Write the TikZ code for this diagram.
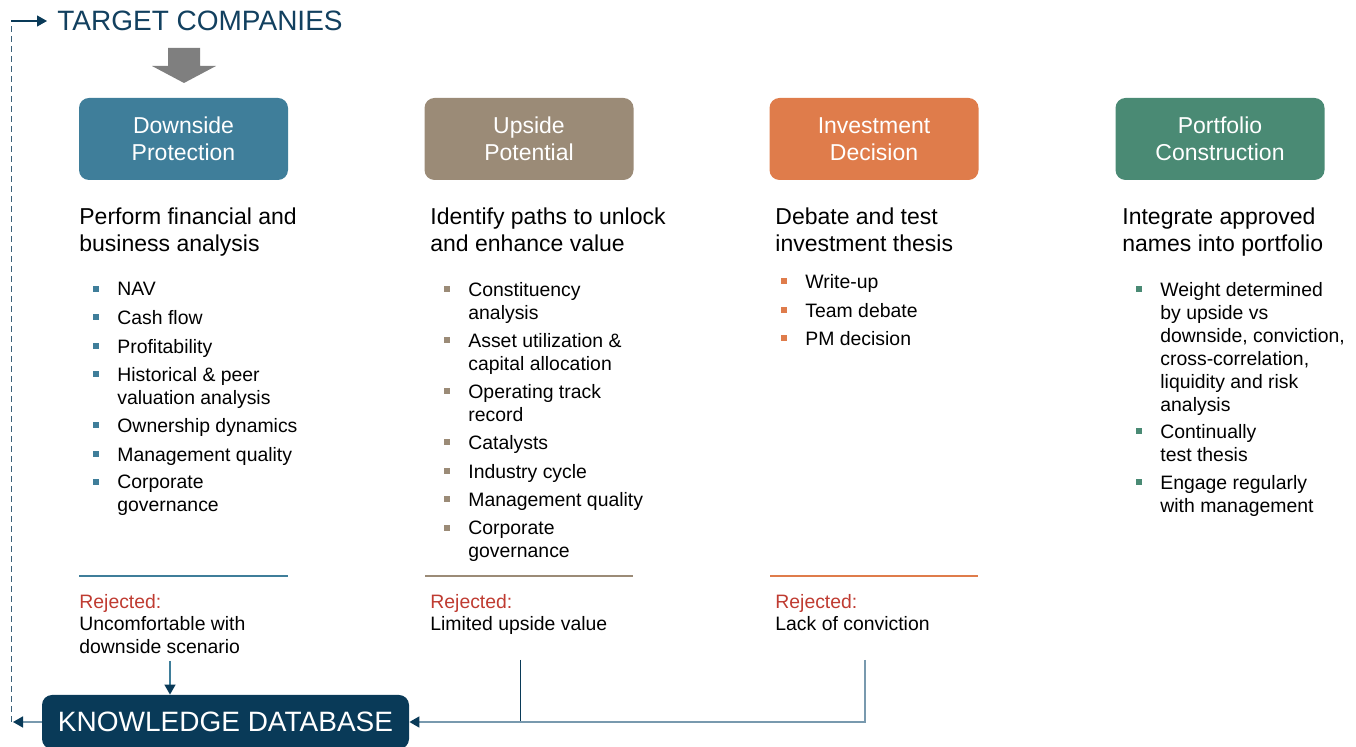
\documentclass[tikz,border=0pt]{standalone}
\usepackage{fontspec}
\setmainfont{Liberation Sans}
\usetikzlibrary{arrows.meta}

\definecolor{navy}{HTML}{093A58}
\definecolor{titleblue}{HTML}{12405F}
\definecolor{downblue}{HTML}{3F7E9A}
\definecolor{uptaupe}{HTML}{9B8B77}
\definecolor{invorange}{HTML}{DF7C4B}
\definecolor{portgreen}{HTML}{4A8A74}
\definecolor{rejred}{HTML}{BF3B31}
\definecolor{linkgrey}{HTML}{7899AE}
\definecolor{bigarrow}{HTML}{7F7F7F}

\begin{document}
\begin{tikzpicture}[x=0.5pt,y=-0.5pt,
	>={Stealth[length=5pt,width=5.5pt,inset=0pt]},
	stage/.style={fill=#1,text=white,rounded corners=5pt,minimum width=104.5pt,minimum height=41pt,
		inner sep=0pt,align=center,font=\fontsize{11.5}{13.5}\selectfont},
	heading/.style={anchor=north west,inner sep=0pt,align=left,font=\fontsize{11.5}{13.5}\selectfont},
	point/.style={anchor=north west,inner sep=0pt,align=left,font=\fontsize{9.7}{11.5}\selectfont},
	reject/.style={anchor=north west,inner sep=0pt,align=left,font=\fontsize{9.7}{11.25}\selectfont},
	bigcaps/.style={inner sep=0pt,font=\fontsize{14}{16}\selectfont},
	navyhead/.style={>={Stealth[length=5pt,width=5.5pt,inset=0pt,color=navy]}}]

	\useasboundingbox (0,0) rectangle (1356,747);
	\clip (0,0) rectangle (1356,747);

	% top of the loop
	\node[bigcaps,anchor=west,text=titleblue] (target) at (57,21) {TARGET COMPANIES};
	\fill[bigarrow] (168,48) -- (200,48) -- (200,66) -- (216,66) -- (184,83) -- (152,66) -- (168,66) -- cycle;

	% the four stages
	\node[stage=downblue] (down) at (183.5,139) {Downside\\Protection};
	\node[stage=uptaupe] (up) at (529,139) {Upside\\Potential};
	\node[stage=invorange] (inv) at (874,139) {Investment\\Decision};
	\node[stage=portgreen] (port) at (1220,139) {Portfolio\\Construction};

	\node[heading] (headdown) at (79,207) {Perform financial and\\business analysis};
	\node[heading] (headup) at (430,207) {Identify paths to unlock\\and enhance value};
	\node[heading] (headinv) at (775,207) {Debate and test\\investment thesis};
	\node[heading] (headport) at (1122,207) {Integrate approved\\names into portfolio};

	% bullet lists
	\foreach \t/\y [count=\i] in {NAV/289,Cash flow/317,Profitability/346,
		Historical \& peer\\valuation analysis/374,Ownership dynamics/425,
		Management quality/454,Corporate\\governance/482}{
		\node[point] (pdown\i) at (117,\y-7) {\t};
		\fill[downblue] (96,\y) +(-3,-3) rectangle +(3,3);
	}
	\foreach \t/\y [count=\i] in {Constituency\\analysis/289,Asset utilization \&\\capital allocation/340,
		Operating track\\record/391,Catalysts/442,Industry cycle/471,
		Management quality/499,Corporate\\governance/528}{
		\node[point] (pup\i) at (468,\y-7) {\t};
		\fill[uptaupe] (447,\y) +(-3,-3) rectangle +(3,3);
	}
	\foreach \t/\y [count=\i] in {Write-up/281,Team debate/310,PM decision/338}{
		\node[point] (pinv\i) at (805,\y-7) {\t};
		\fill[invorange] (784,\y) +(-3,-3) rectangle +(3,3);
	}
	\foreach \t/\y [count=\i] in {{Weight determined\\by upside vs\\downside, conviction,\\cross-correlation,\\liquidity and risk\\analysis}/289,
		Continually\\test thesis/431,Engage regularly\\with management/482}{
		\node[point] (pport\i) at (1160,\y-7) {\t};
		\fill[portgreen] (1139,\y) +(-3,-3) rectangle +(3,3);
	}

	% rejections
	\draw[downblue,line width=0.6pt] (79,576) -- (288,576);
	\draw[uptaupe,line width=0.6pt] (425,576) -- (633,576);
	\draw[invorange,line width=0.6pt] (770,576) -- (978,576);

	\node[reject] (rejdown) at (79,594) {\textcolor{rejred}{Rejected:}\\Uncomfortable with\\downside scenario};
	\node[reject] (rejup) at (430,594) {\textcolor{rejred}{Rejected:}\\Limited upside value};
	\node[reject] (rejinv) at (775,594) {\textcolor{rejred}{Rejected:}\\Lack of conviction};

	\node[bigcaps,fill=navy,text=white,rounded corners=5pt,minimum width=183.5pt,minimum height=27pt] (kdb) at (225.5,722) {KNOWLEDGE DATABASE};

	\coordinate (drop1) at (170,661);
	\coordinate (drop2) at (520,660);
	\coordinate (drop3) at (865,660);
	\coordinate (loopbot) at (11,722);
	\coordinate (looptop) at (11,21);

	\draw[->,downblue,line width=0.6pt,navyhead] (drop1) -- (drop1 |- kdb.north);
	\draw[navy,line width=0.45pt] (drop2) -- (drop2 |- kdb.east);
	\draw[->,linkgrey,line width=0.8pt,navyhead] (drop3) -- (drop3 |- kdb.east) -- (kdb.east);

	\draw[->,linkgrey,line width=0.8pt,navyhead] (kdb.west) -- ([xshift=1pt]loopbot);
	\draw[navy!80,line width=0.45pt,densely dashed] (loopbot) -- (looptop);
	\draw[->,navy,line width=0.6pt] (looptop) -- ([xshift=-5pt]target.west);
\end{tikzpicture}
\end{document}
